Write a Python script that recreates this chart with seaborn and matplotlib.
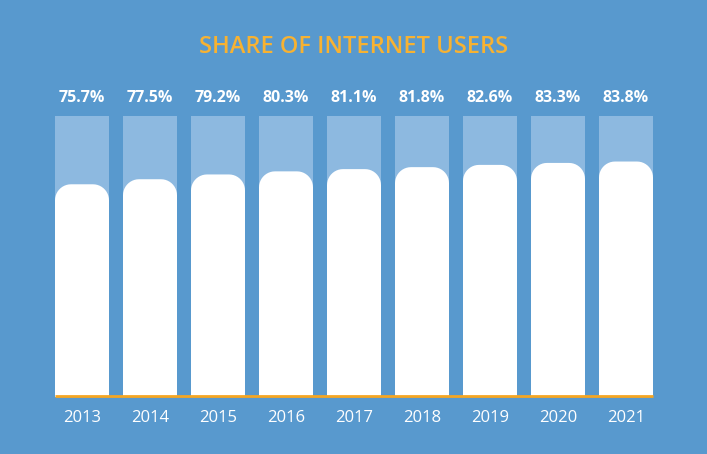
import numpy as np
import matplotlib
matplotlib.use("Agg")
import matplotlib.pyplot as plt
import pandas as pd
import seaborn as sns
from matplotlib.path import Path
from matplotlib.patches import PathPatch

years = ["2013", "2014", "2015", "2016", "2017", "2018", "2019", "2020", "2021"]
share = [75.7, 77.5, 79.2, 80.3, 81.1, 81.8, 82.6, 83.3, 83.8]
full = [100] * len(years)

bg = "#5899CE"
light = "#8DB9E0"
orange = "#F5A623"

sns.set_style("white")
plt.rcParams['font.family'] = ['Open Sans', 'DejaVu Sans']

df = pd.DataFrame({"year": years, "share": share, "full": full})

fig = plt.figure(figsize=(7.07, 4.54), dpi=100, facecolor=bg)
# axes placed so bars land on the same pixels as the reference
ax = fig.add_axes([48 / 707, 57 / 454, 612 / 707, 281 / 454])
ax.set_facecolor(bg)

bw = 54 / 68
sns.barplot(data=df, x="year", y="full", color=light, width=bw, saturation=1,
            linewidth=0, ax=ax)
n_bg = len(ax.patches)
sns.barplot(data=df, x="year", y="share", color="white", width=bw, saturation=1,
            linewidth=0, ax=ax)

ax.set_xlim(-0.5, len(years) - 0.5)
ax.set_ylim(0, 100)


def rounded_top(x0, w, h, rx, ry, n=12):
    t = np.linspace(0, np.pi / 2, n)
    verts = [(x0, 0), (x0, h - ry)]
    # left corner
    for a in t:
        verts.append((x0 + rx - rx * np.cos(a), h - ry + ry * np.sin(a)))
    # right corner
    for a in t[::-1]:
        verts.append((x0 + w - rx + rx * np.cos(a), h - ry + ry * np.sin(a)))
    verts += [(x0 + w, 0), (x0, 0)]
    return Path(verts, closed=True)


# swap the white bars for ones with rounded tops
rx = 16 / 68
ry = 16 / 2.81
for p in list(ax.patches[n_bg:]):
    x0, w, h = p.get_x(), p.get_width(), p.get_height()
    p.remove()
    ax.add_patch(PathPatch(rounded_top(x0, w, h, rx, ry), fc="white", ec="none", zorder=2))

ax.plot([-bw / 2, len(years) - 1 + bw / 2], [0.3, 0.3], color=orange, lw=2,
        solid_capstyle="butt", clip_on=False, zorder=3)

for i, v in enumerate(share):
    ax.text(i, 106.5, f"{v}%", ha="center", va="center", color="white",
            fontsize=11.5, fontweight="bold")

ax.set_xticks(range(len(years)))
ax.set_xticklabels(years, color="white", fontsize=12)
ax.tick_params(axis="x", length=0, pad=9)
ax.set_yticks([])
ax.set_xlabel("")
ax.set_ylabel("")
sns.despine(ax=ax, left=True, bottom=True)

fig.text(354 / 707, 1 - 47 / 454, "SHARE OF INTERNET USERS", ha="center", va="center",
         color="#F7B232", fontsize=17, fontweight="semibold")

fig.savefig("out.png", dpi=100, facecolor=bg)
